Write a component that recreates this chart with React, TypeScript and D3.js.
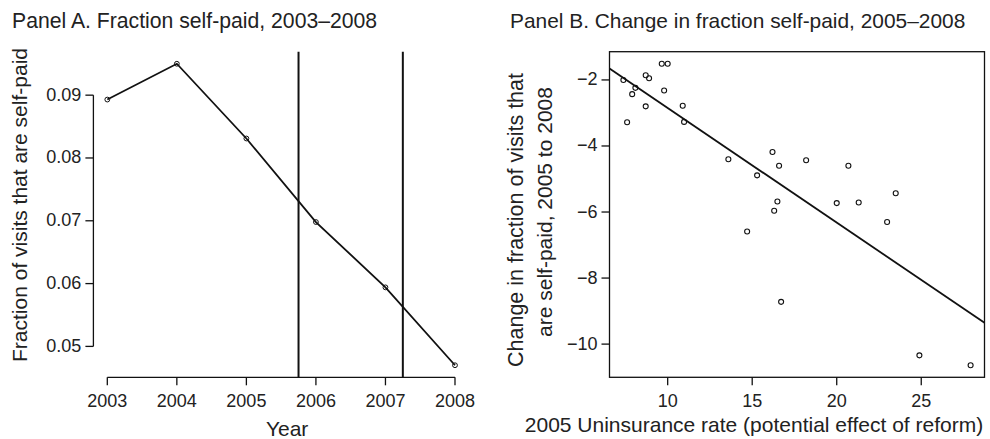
import * as React from 'react';
import * as d3 from 'd3';

// Panel A: fraction of visits that are self-paid, by year
const years = [2003, 2004, 2005, 2006, 2007, 2008];
const fracSelfPaid = [0.0893, 0.095, 0.0831, 0.0698, 0.0594, 0.047];
const reformDates = [2005.75, 2007.25];
const yTicksA = [0.05, 0.06, 0.07, 0.08, 0.09];

// Panel B: county-level change vs 2005 uninsurance rate
const uninsRate = [
    7.38, 7.6, 7.9, 8.09, 8.7, 8.9, 8.7, 9.65, 10.0, 9.79, 10.89, 10.97, 13.59, 16.2,
    16.59, 15.29, 18.19, 20.69, 16.49, 16.3, 20.0, 21.3, 23.49, 22.98, 14.7, 16.71, 24.89, 27.92,
];
const changeSelfPaid = [
    -2.0, -3.28, -2.43, -2.24, -1.86, -1.95, -2.8, -1.51, -1.51, -2.32, -2.78, -3.27, -4.4, -4.18,
    -4.6, -4.89, -4.43, -4.6, -5.68, -5.96, -5.73, -5.71, -5.43, -6.3, -6.59, -8.72, -10.34, -10.64,
];
const fitIntercept = 0.62;
const fitSlope = -0.347;
const xTicksB = [10, 15, 20, 25];
const yTicksB = [-10, -8, -6, -4, -2];

const FONT = '"Liberation Sans", Arial, Helvetica, sans-serif';
const INK = '#222';

// R-style 4% padding around the data range
function padded(values: number[]): [number, number] {
    const [lo, hi] = d3.extent(values) as [number, number];
    const p = (hi - lo) * 0.04;
    return [lo - p, hi + p];
}

const fmtMinus = (v: number) => (v < 0 ? '\u2212' + Math.abs(v) : String(v));

export default function App() {
    const top = 51.7;
    const bottom = 377.3;

    // panel A scales
    const xA = d3.scaleLinear().domain(padded(years)).range([93.4, 468.9]);
    const yA = d3.scaleLinear().domain(padded(fracSelfPaid)).range([bottom, top]);
    const lineA = d3.line<number>()
        .x((d, i) => xA(years[i]))
        .y(d => yA(d));

    // panel B scales
    const xB = d3.scaleLinear().domain(padded(uninsRate)).range([609.5, 984.5]);
    const yB = d3.scaleLinear().domain(padded(changeSelfPaid)).range([bottom, top]);
    const [bx0, bx1] = xB.domain();

    const tick = 8;

    return (
        <svg width={990} height={439} style={{position: 'absolute', left: 0, top: 0, background: '#fff'}}
            fontFamily={FONT} fill={INK}>
            {/* titles */}
            <text x={12} y={27.5} fontSize={21.2}>Panel A. Fraction self-paid, 2003–2008</text>
            <text x={510} y={27.5} fontSize={20.9}>Panel B. Change in fraction self-paid, 2005–2008</text>

            {/* ---- Panel A ---- */}
            {reformDates.map(d => (
                <line key={d} x1={xA(d)} x2={xA(d)} y1={top} y2={bottom} stroke="#111" strokeWidth={2} />
            ))}
            <path d={lineA(fracSelfPaid) || ''} fill="none" stroke="#111" strokeWidth={1.8} />
            {fracSelfPaid.map((v, i) => (
                <circle key={i} cx={xA(years[i])} cy={yA(v)} r={2.4} fill="none" stroke="#111" strokeWidth={1} />
            ))}

            {/* y axis A */}
            <line x1={xA.range()[0]} x2={xA.range()[0]} y1={yA(yTicksA[0])} y2={yA(yTicksA[yTicksA.length - 1])}
                stroke="#111" strokeWidth={1.3} />
            {yTicksA.map(t => (
                <g key={t}>
                    <line x1={xA.range()[0] - tick} x2={xA.range()[0]} y1={yA(t)} y2={yA(t)} stroke="#111" strokeWidth={1.3} />
                    <text x={xA.range()[0] - tick - 4} y={yA(t) + 5.5} fontSize={18} textAnchor="end">{t.toFixed(2)}</text>
                </g>
            ))}
            {/* x axis A */}
            <line x1={xA(years[0])} x2={xA(years[years.length - 1])} y1={bottom} y2={bottom} stroke="#111" strokeWidth={1.3} />
            {years.map(t => (
                <g key={t}>
                    <line x1={xA(t)} x2={xA(t)} y1={bottom} y2={bottom + tick} stroke="#111" strokeWidth={1.3} />
                    <text x={xA(t)} y={406.5} fontSize={18} textAnchor="middle">{t}</text>
                </g>
            ))}
            <text x={(xA.range()[0] + xA.range()[1]) / 2 + 6} y={436} fontSize={21} textAnchor="middle">Year</text>
            <text transform={`translate(27, 205) rotate(-90)`} fontSize={21} textAnchor="middle">
                Fraction of visits that are self-paid
            </text>

            {/* ---- Panel B ---- */}
            <rect x={xB.range()[0]} y={top} width={xB.range()[1] - xB.range()[0]} height={bottom - top}
                fill="none" stroke="#111" strokeWidth={1.3} />
            <line x1={xB(bx0)} x2={xB(bx1)} y1={yB(fitIntercept + fitSlope * bx0)} y2={yB(fitIntercept + fitSlope * bx1)}
                stroke="#111" strokeWidth={1.8} />
            {uninsRate.map((x, i) => (
                <circle key={i} cx={xB(x)} cy={yB(changeSelfPaid[i])} r={2.5} fill="none" stroke="#111" strokeWidth={1.1} />
            ))}
            {yTicksB.map(t => (
                <g key={t}>
                    <line x1={xB.range()[0] - tick} x2={xB.range()[0]} y1={yB(t)} y2={yB(t)} stroke="#111" strokeWidth={1.3} />
                    <text x={xB.range()[0] - tick - 4} y={yB(t) + 5.5} fontSize={18} textAnchor="end">{fmtMinus(t)}</text>
                </g>
            ))}
            {xTicksB.map(t => (
                <g key={t}>
                    <line x1={xB(t)} x2={xB(t)} y1={bottom} y2={bottom + tick} stroke="#111" strokeWidth={1.3} />
                    <text x={xB(t)} y={406.5} fontSize={18} textAnchor="middle">{t}</text>
                </g>
            ))}
            <text x={754} y={432} fontSize={21} textAnchor="middle">
                2005 Uninsurance rate (potential effect of reform)
            </text>
            <text transform={`translate(523, 220) rotate(-90)`} fontSize={21.5} textAnchor="middle">
                Change in fraction of visits that
            </text>
            <text transform={`translate(552, 212) rotate(-90)`} fontSize={21} textAnchor="middle">
                are self-paid, 2005 to 2008
            </text>
        </svg>
    );
}
